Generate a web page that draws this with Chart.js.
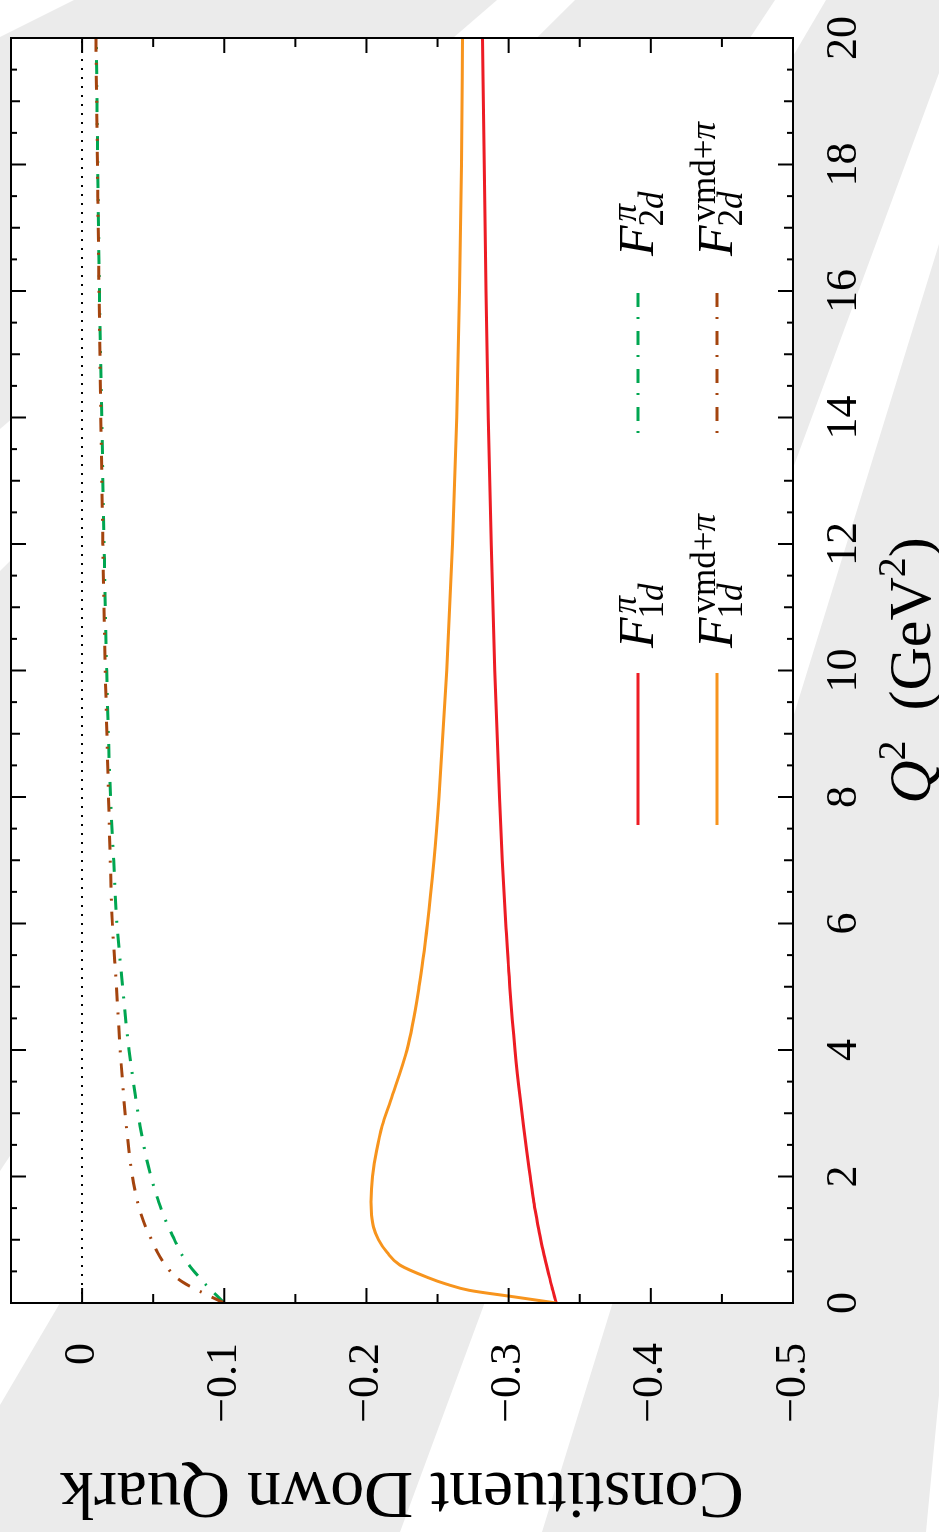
<!DOCTYPE html>
<html>
<head>
<meta charset="utf-8">
<script src="https://cdn.jsdelivr.net/npm/chart.js@4.4.0/dist/chart.umd.min.js"></script>
<style>
html, body { margin: 0; padding: 0; width: 939px; height: 1532px; overflow: hidden; background: #ebebeb; }
#wrap { position: absolute; left: 0; top: 0; width: 1532px; height: 939px;
        transform-origin: 0 0; transform: translateY(1532px) rotate(-90deg); }
</style>
</head>
<body>
<div id="wrap"><canvas id="quarkGraph" width="1532" height="939"></canvas></div>
<script>
// Q^2 grid (GeV^2) shared by all four curves
var q2 = [0, 0.1, 0.2, 0.3, 0.4, 0.6, 0.8, 1.0, 1.2, 1.4, 1.6, 1.8, 2.0, 2.4, 2.8, 3.2,
          4, 5, 6, 7, 8, 10, 12, 14, 16, 18, 20];

var f1dPi = [-0.3335, -0.3323, -0.3311, -0.3299, -0.3288, -0.3266, -0.3245, -0.3226, -0.3208, -0.3192,
             -0.3177, -0.3164, -0.3152, -0.3128, -0.3105, -0.3083, -0.3045, -0.3008, -0.2980, -0.2955,
             -0.2935, -0.2902, -0.2877, -0.2857, -0.2841, -0.2828, -0.2817];
var f1dVmd = [-0.3335, -0.3030, -0.2725, -0.2560, -0.2435, -0.2235, -0.2145, -0.2085, -0.2050, -0.2036,
              -0.2032, -0.2035, -0.2043, -0.2070, -0.2110, -0.2170, -0.2285, -0.2370, -0.2430, -0.2475,
              -0.2510, -0.2565, -0.2605, -0.2635, -0.2655, -0.2668, -0.2675];
var f2dPi = [-0.1000, -0.0955, -0.0910, -0.0866, -0.0826, -0.0752, -0.0692, -0.0650, -0.0607, -0.0570,
             -0.0538, -0.0510, -0.0484, -0.0442, -0.0408, -0.0380, -0.0330, -0.0285, -0.0245, -0.0222,
             -0.0200, -0.0173, -0.0155, -0.0138, -0.0122, -0.0110, -0.0100];
var f2dVmd = [-0.1000, -0.0905, -0.0815, -0.0730, -0.0665, -0.0585, -0.0530, -0.0488, -0.0448, -0.0415,
              -0.0390, -0.0370, -0.0354, -0.0330, -0.0311, -0.0295, -0.0268, -0.0242, -0.0213, -0.0198,
              -0.0186, -0.0163, -0.0146, -0.0132, -0.0119, -0.0108, -0.0097];

var q2Ticks = [0, 2, 4, 6, 8, 10, 12, 14, 16, 18, 20];
var quarkTicks = [0, -0.1, -0.2, -0.3, -0.4, -0.5];

var RED = '#ed1c24', ORANGE = '#f7941d', GREEN = '#00a651', BROWN = '#a4440e';
var SERIF = '"Liberation Serif", "Times New Roman", serif';
var DASHDOT = [14, 11, 2, 11];

function pts(ys) {
    return q2.map(function (q, i) { return { x: q, y: ys[i] }; });
}

// page is the canvas turned a quarter turn; (px, py) on the page -> canvas point
function pageToCanvas(px, py) { return [1532 - py, px]; }

var stripes = [
    [[0, 0], [74, 0], [0, 37]],
    [[497, 0], [575, 0], [0, 571], [0, 429]],
    [[775, 0], [826, 0], [0, 1405], [0, 1171]],
    [[939, 73], [939, 244], [542, 1532], [400, 1532]],
    [[939, 1395], [939, 1532], [926, 1532]]
];

var backdrop = {
    id: 'backdrop',
    beforeDraw: function (chart) {
        var ctx = chart.ctx, a = chart.chartArea;
        ctx.save();
        ctx.fillStyle = '#ebebeb';
        ctx.fillRect(0, 0, chart.width, chart.height);
        ctx.fillStyle = '#ffffff';
        stripes.forEach(function (poly) {
            ctx.beginPath();
            poly.forEach(function (p, i) {
                var c = pageToCanvas(p[0], p[1]);
                if (i === 0) ctx.moveTo(c[0], c[1]); else ctx.lineTo(c[0], c[1]);
            });
            ctx.closePath();
            ctx.fill();
        });
        ctx.fillRect(a.left, a.top, a.width, a.height);
        ctx.restore();
    }
};

function seg(ctx, x1, y1, x2, y2) {
    ctx.beginPath(); ctx.moveTo(x1, y1); ctx.lineTo(x2, y2); ctx.stroke();
}

// frame with inward ticks on all four sides
var frame = {
    id: 'frame',
    afterDatasetsDraw: function (chart) {
        var ctx = chart.ctx, a = chart.chartArea, sx = chart.scales.x, sy = chart.scales.y;
        ctx.save();
        ctx.strokeStyle = '#000';
        ctx.lineWidth = 2;
        ctx.lineCap = 'butt';
        for (var k = 0; k <= 40; k++) {
            var len = k % 4 === 0 ? 15 : (k % 2 === 0 ? 9 : 6);
            var x = sx.getPixelForValue(k / 2);
            seg(ctx, x, a.bottom, x, a.bottom - len);
            seg(ctx, x, a.top, x, a.top + len);
        }
        for (var j = 0; j <= 10; j++) {
            var l2 = j % 2 === 0 ? 15 : 9;
            var y = sy.getPixelForValue(-j * 0.05);
            seg(ctx, a.left, y, a.left + l2, y);
            seg(ctx, a.right, y, a.right - l2, y);
        }
        ctx.strokeRect(a.left, a.top, a.width, a.height);
        ctx.restore();
    }
};

// draws a run of text pieces (style, size, rise) from x; returns end x
function mathText(ctx, x, y, pieces) {
    var cx = x;
    pieces.forEach(function (p) {
        ctx.font = p.style + ' ' + p.size + 'px ' + SERIF;
        ctx.fillText(p.t, cx, y - (p.rise || 0));
        cx += ctx.measureText(p.t).width;
    });
    return cx;
}

function fLabel(ctx, x, y, sup, sub) {
    ctx.font = 'italic 50px ' + SERIF;
    var fw = ctx.measureText('F').width;
    mathText(ctx, x, y, [{ t: 'F', style: 'italic', size: 50 }]);
    mathText(ctx, x + fw + 4, y, sup.map(function (s) { return { t: s[0], style: s[1], size: 35, rise: 17 }; }));
    mathText(ctx, x + fw - 1, y, sub.map(function (s) { return { t: s[0], style: s[1], size: 35, rise: -10 }; }));
}

var legendBox = {
    id: 'legendBox',
    afterDraw: function (chart) {
        var ctx = chart.ctx;
        var entries = [
            { color: RED, dash: [], x: 707, y: 638, sup: [['π', 'italic']], sub: [['1', ''], ['d', 'italic']] },
            { color: ORANGE, dash: [], x: 707, y: 717, sup: [['vmd+', ''], ['π', 'italic']], sub: [['1', ''], ['d', 'italic']] },
            { color: GREEN, dash: [2, 10, 14, 12], x: 1099, y: 638, sup: [['π', 'italic']], sub: [['2', ''], ['d', 'italic']] },
            { color: BROWN, dash: [2, 10, 14, 12], x: 1099, y: 717, sup: [['vmd+', ''], ['π', 'italic']], sub: [['2', ''], ['d', 'italic']] }
        ];
        ctx.save();
        entries.forEach(function (e) {
            ctx.strokeStyle = e.color;
            ctx.lineWidth = 3;
            ctx.setLineDash(e.dash);
            seg(ctx, e.x, e.y, e.x + 152, e.y);
            ctx.setLineDash([]);
            ctx.fillStyle = '#000';
            ctx.textBaseline = 'alphabetic';
            ctx.textAlign = 'left';
            fLabel(ctx, e.x + 177, e.y + 15, e.sup, e.sub);
        });

        // Q^2 (GeV^2) axis title under the Q^2 axis
        var a = chart.chartArea;
        var pieces = [
            { t: 'Q', style: 'italic', size: 60 },
            { t: '2', style: '', size: 40, rise: 25 },
            { t: '\u2002(GeV', style: '', size: 60 },
            { t: '2', style: '', size: 40, rise: 25 },
            { t: ')', style: '', size: 60 }
        ];
        var w = 0;
        pieces.forEach(function (p) {
            ctx.font = p.style + ' ' + p.size + 'px ' + SERIF;
            w += ctx.measureText(p.t).width;
        });
        mathText(ctx, (a.left + a.right) / 2 - w / 2, 930, pieces);
        ctx.restore();
    }
};

function noPad(s) {
    s.paddingLeft = 0; s.paddingRight = 0; s.paddingTop = 0; s.paddingBottom = 0;
}

var data = {
    datasets: [
        { data: [{ x: 0, y: 0 }, { x: 20, y: 0 }], borderColor: '#000', borderWidth: 2, borderDash: [2, 7] },
        { data: pts(f2dVmd), borderColor: BROWN, borderWidth: 3, borderDash: DASHDOT },
        { data: pts(f2dPi), borderColor: GREEN, borderWidth: 3, borderDash: DASHDOT },
        { data: pts(f1dVmd), borderColor: ORANGE, borderWidth: 3 },
        { data: pts(f1dPi), borderColor: RED, borderWidth: 3 }
    ]
};

var options = {
    responsive: false,
    animation: false,
    layout: { padding: { left: 0, top: 11, right: 38, bottom: 0 } },
    elements: { point: { radius: 0 }, line: { cubicInterpolationMode: 'monotone', borderCapStyle: 'butt' } },
    plugins: { legend: { display: false }, tooltip: { enabled: false } },
    scales: {
        x: {
            type: 'linear', position: 'bottom', min: 0, max: 20,
            grid: { display: false, drawTicks: false }, border: { display: false },
            ticks: { color: '#000', font: { family: SERIF, size: 44 }, padding: 25,
                     maxRotation: 0, autoSkip: false },
            afterBuildTicks: function (s) { s.ticks = q2Ticks.map(function (v) { return { value: v }; }); },
            afterFit: function (s) { s.height = 146; noPad(s); }
        },
        y: {
            type: 'linear', position: 'left', min: -0.5, max: 0.05,
            grid: { display: false, drawTicks: false }, border: { display: false },
            ticks: { color: '#000', font: { family: SERIF, size: 44 }, padding: 40,
                     callback: function (v) { return v === 0 ? '0' : '\u2212' + Math.abs(v).toFixed(1); } },
            afterBuildTicks: function (s) { s.ticks = quarkTicks.map(function (v) { return { value: v }; }); },
            afterFit: function (s) { s.width = 229; noPad(s); },
            title: { display: true, text: 'Constituent Down Quark', color: '#000',
                     font: { family: SERIF, size: 68 }, padding: { top: 0, bottom: 0 } }
        }
    }
};

var graph = new Chart(document.getElementById('quarkGraph').getContext('2d'), {
    type: 'line',
    data: data,
    options: options,
    plugins: [backdrop, frame, legendBox]
});
</script>
</body>
</html>
